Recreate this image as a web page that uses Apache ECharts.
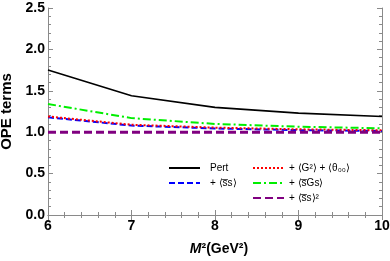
<!DOCTYPE html>
<html><head><meta charset="utf-8">
<script src="https://cdn.jsdelivr.net/npm/echarts@6/dist/echarts.min.js"></script>
<style>html,body{margin:0;padding:0;background:#fff}#c{width:390px;height:261px}</style>
</head><body><div id="c"></div>
<script>
const M2 = [6, 7, 8, 9, 10];
const pert = [1.75, 1.44, 1.30, 1.23, 1.19];
const ss = [1.18, 1.08, 1.045, 1.025, 1.015];
const g2 = [1.19, 1.09, 1.055, 1.035, 1.023];
const sgs = [1.34, 1.17, 1.10, 1.066, 1.047];
const ss2 = [1.0, 1.0, 1.0, 1.0, 1.0];
const names = ['Pert', '+ \u27E8s\u0305s\u27E9', '+ \u27E8G\u00B2\u27E9 + \u27E8\u03B8\u2080\u2080\u27E9', '+ \u27E8s\u0305Gs\u27E9', '+ \u27E8s\u0305s\u27E9\u00B2'];
const xTicks = [6, 7, 8, 9, 10];
const yTicks = [0, 0.5, 1.0, 1.5, 2.0, 2.5];

const font = 'Liberation Sans, Arial, sans-serif';
const axisCol = '#8a8a8a';
function pairs(ys){ return M2.map((x,i)=>[x, ys[i]]); }
function mk(name, ys, color, type, width){
  return {name, type:'line', data:pairs(ys), symbol:'none', xAxisIndex:0, yAxisIndex:0,
    lineStyle:{color, type, width}, itemStyle:{color}, animation:false};
}
const chart = echarts.init(document.getElementById('c'), null, {renderer:'canvas'});
const baseX = {type:'value', min:xTicks[0], max:xTicks[xTicks.length-1], interval:1,
  axisLine:{show:true, lineStyle:{color:axisCol, width:1}},
  axisTick:{show:true, inside:true, length:5, lineStyle:{color:axisCol}},
  minorTick:{show:true, splitNumber:5, length:3, lineStyle:{color:axisCol}},
  splitLine:{show:false}};
const baseY = {type:'value', min:yTicks[0], max:yTicks[yTicks.length-1], interval:0.5,
  axisLine:{show:true, lineStyle:{color:axisCol, width:1}},
  axisTick:{show:true, inside:true, length:5, lineStyle:{color:axisCol}},
  minorTick:{show:true, splitNumber:5, length:3, lineStyle:{color:axisCol}},
  splitLine:{show:false}};
const legText = {fontFamily:font, fontSize:10, color:'#000'};
chart.setOption({
  animation:false,
  grid:{left:48, right:8, top:8, bottom:46, containLabel:false, outerBoundsMode:'none'},
  xAxis:[
    Object.assign({}, baseX, {position:'bottom',
      axisLabel:{color:'#000', fontFamily:font, fontWeight:'bold', fontSize:14, margin:4},
      name:'{i|M}{n|\u00B2(GeV\u00B2)}', nameLocation:'middle', nameGap:27,
      nameTextStyle:{padding:[0,0,0,8], rich:{i:{fontStyle:'italic', fontWeight:'bold', fontSize:14, fontFamily:font, color:'#000'},
                           n:{fontWeight:'bold', fontSize:14, fontFamily:font, color:'#000'}}}}),
    Object.assign({}, baseX, {position:'top', axisLabel:{show:false}})
  ],
  yAxis:[
    Object.assign({}, baseY, {position:'left',
      axisLabel:{color:'#000', fontFamily:font, fontWeight:'bold', fontSize:14, margin:3,
        formatter:v=>v.toFixed(1)},
      name:'OPE terms', nameLocation:'middle', nameGap:30,
      nameTextStyle:{color:'#000', fontFamily:font, fontWeight:'bold', fontSize:15}}),
    Object.assign({}, baseY, {position:'right', axisLabel:{show:false}})
  ],
  legend:[
    {data:[names[0], names[1]], orient:'vertical', left:163, top:158, itemWidth:31, itemHeight:8, itemGap:5,
     itemStyle:{opacity:0}, textStyle:Object.assign({padding:[0,0,0,5]}, legText)},
    {data:[names[2], names[3], names[4]], orient:'vertical', left:247, top:158, itemWidth:31, itemHeight:8, itemGap:5,
     itemStyle:{opacity:0}, textStyle:legText}
  ],
  series:[
    mk(names[0], pert, '#000000', 'solid', 1.6),
    mk(names[1], ss, '#0000ff', [6,3], 2),
    mk(names[2], g2, '#ff0000', [2,2], 2),
    mk(names[3], sgs, '#00ee00', [8,3,2,3], 2),
    mk(names[4], ss2, '#800080', [8,4], 3)
  ]
});
</script></body></html>
